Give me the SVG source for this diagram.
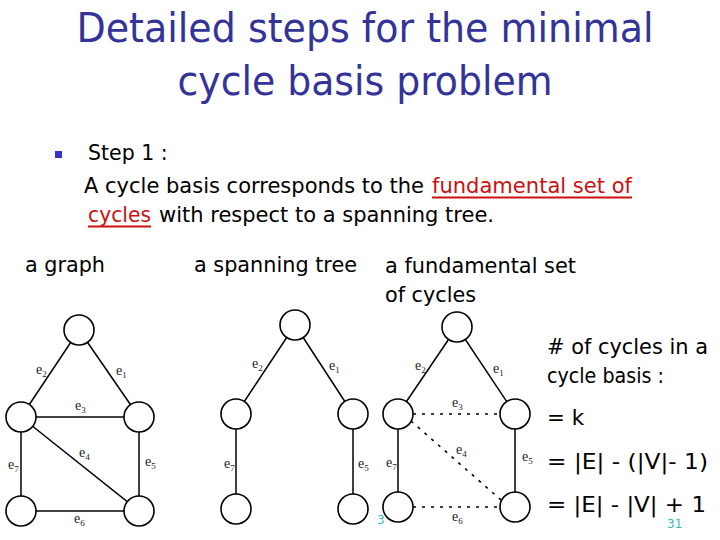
<svg xmlns="http://www.w3.org/2000/svg" width="720" height="540" viewBox="0 0 720 540">
<style>
.title{font-family:"DejaVu Sans","Verdana",sans-serif;font-size:41px;fill:#333399;text-anchor:middle}
.body{font-family:"DejaVu Sans","Verdana",sans-serif;font-size:20.5px;fill:#000}
.red{fill:#CC1111}
.lbl{font-family:"Liberation Serif","Times New Roman",serif;font-size:14px;fill:#222}
.sub{font-size:9px}
.nd{fill:#fff;stroke:#000;stroke-width:1.6}
.ed{stroke:#000;stroke-width:1.5;fill:none}
.dash{stroke:#000;stroke-width:1.6;stroke-dasharray:3 6;fill:none}
.teal{font-family:"DejaVu Sans",sans-serif;font-size:12px;fill:#33BBBB}
</style>
<rect width="720" height="540" fill="#fff"/>
<g id="title">
<text class="title" x="365" y="42" textLength="577" lengthAdjust="spacingAndGlyphs">Detailed steps for the minimal</text>
<text class="title" x="365" y="95" textLength="375" lengthAdjust="spacingAndGlyphs">cycle basis problem</text>
</g>
<g id="bullet-text">
<rect x="55" y="151" width="7" height="7" fill="#3333CC"/>
<text class="body" x="88" y="160">Step 1 :</text>
<text class="body" x="84" y="193" textLength="340" lengthAdjust="spacingAndGlyphs">A cycle basis corresponds to the</text>
<text class="body red" x="432" y="193" textLength="200" lengthAdjust="spacingAndGlyphs">fundamental set of</text>
<line x1="432" y1="197.5" x2="632" y2="197.5" stroke="#CC1111" stroke-width="2"/>
<text class="body red" x="88" y="222" textLength="63" lengthAdjust="spacingAndGlyphs">cycles</text>
<line x1="88" y1="226.5" x2="151" y2="226.5" stroke="#CC1111" stroke-width="2"/>
<text class="body" x="159" y="222" textLength="335" lengthAdjust="spacingAndGlyphs">with respect to a spanning tree.</text>
</g>
<g id="captions">
<text class="body" x="25" y="272" textLength="80" lengthAdjust="spacingAndGlyphs">a graph</text>
<text class="body" x="194" y="272" textLength="163" lengthAdjust="spacingAndGlyphs">a spanning tree</text>
<text class="body" x="385" y="273" textLength="191" lengthAdjust="spacingAndGlyphs">a fundamental set</text>
<text class="body" x="385" y="302" textLength="91" lengthAdjust="spacingAndGlyphs">of cycles</text>
<text class="body" x="547" y="354" textLength="161" lengthAdjust="spacingAndGlyphs"># of cycles in a</text>
<text class="body" x="547" y="383" textLength="117" lengthAdjust="spacingAndGlyphs">cycle basis :</text>
<text class="body" x="547" y="425" textLength="37" lengthAdjust="spacingAndGlyphs">= k</text>
<text class="body" x="547" y="469" textLength="161" lengthAdjust="spacingAndGlyphs">= |E| - (|V|- 1)</text>
<text class="body" x="547" y="512" textLength="159" lengthAdjust="spacingAndGlyphs">= |E| - |V| + 1</text>
<text class="teal" x="377" y="524">3</text>
<text class="teal" x="667" y="528">31</text>
</g>
<g id="connectors">
<line class="ed" x1="79" y1="330" x2="139" y2="417"/>
<line class="ed" x1="79" y1="330" x2="21" y2="417"/>
<line class="ed" x1="21" y1="417" x2="139" y2="417"/>
<line class="ed" x1="21" y1="417" x2="139" y2="511"/>
<line class="ed" x1="139" y1="417" x2="139" y2="511"/>
<line class="ed" x1="21" y1="511" x2="139" y2="511"/>
<line class="ed" x1="21" y1="417" x2="21" y2="511"/>
<line class="ed" x1="295" y1="325" x2="353" y2="414"/>
<line class="ed" x1="295" y1="325" x2="236" y2="414"/>
<line class="ed" x1="236" y1="414" x2="236" y2="509"/>
<line class="ed" x1="353" y1="414" x2="353" y2="509"/>
<line class="ed" x1="457" y1="327" x2="515" y2="414"/>
<line class="ed" x1="457" y1="327" x2="398" y2="414"/>
<line class="ed" x1="398" y1="414" x2="398" y2="507"/>
<line class="ed" x1="515" y1="414" x2="515" y2="507"/>
<line class="dash" x1="413" y1="414" x2="500" y2="414"/>
<line class="dash" x1="411" y1="421" x2="501" y2="500"/>
<line class="dash" x1="413" y1="507" x2="500" y2="507"/>
</g>
<g id="edge-labels">
<text class="lbl" x="36" y="374">e<tspan class="sub" dy="3">2</tspan></text>
<text class="lbl" x="116" y="375">e<tspan class="sub" dy="3">1</tspan></text>
<text class="lbl" x="75" y="410">e<tspan class="sub" dy="3">3</tspan></text>
<text class="lbl" x="79" y="457">e<tspan class="sub" dy="3">4</tspan></text>
<text class="lbl" x="145" y="466">e<tspan class="sub" dy="3">5</tspan></text>
<text class="lbl" x="8" y="469">e<tspan class="sub" dy="3">7</tspan></text>
<text class="lbl" x="74" y="523">e<tspan class="sub" dy="3">6</tspan></text>
<text class="lbl" x="252" y="368">e<tspan class="sub" dy="3">2</tspan></text>
<text class="lbl" x="329" y="370">e<tspan class="sub" dy="3">1</tspan></text>
<text class="lbl" x="224" y="468">e<tspan class="sub" dy="3">7</tspan></text>
<text class="lbl" x="358" y="468">e<tspan class="sub" dy="3">5</tspan></text>
<text class="lbl" x="415" y="370">e<tspan class="sub" dy="3">2</tspan></text>
<text class="lbl" x="493" y="373">e<tspan class="sub" dy="3">1</tspan></text>
<text class="lbl" x="452" y="407">e<tspan class="sub" dy="3">3</tspan></text>
<text class="lbl" x="456" y="454">e<tspan class="sub" dy="3">4</tspan></text>
<text class="lbl" x="522" y="461">e<tspan class="sub" dy="3">5</tspan></text>
<text class="lbl" x="386" y="467">e<tspan class="sub" dy="3">7</tspan></text>
<text class="lbl" x="452" y="521">e<tspan class="sub" dy="3">6</tspan></text>
</g>
<g id="g1-top"><circle class="nd" cx="79" cy="330" r="15"/></g>
<g id="g1-left"><circle class="nd" cx="21" cy="417" r="15"/></g>
<g id="g1-right"><circle class="nd" cx="139" cy="417" r="15"/></g>
<g id="g1-bl"><circle class="nd" cx="21" cy="511" r="15"/></g>
<g id="g1-br"><circle class="nd" cx="139" cy="511" r="15"/></g>
<g id="g2-top"><circle class="nd" cx="295" cy="325" r="15"/></g>
<g id="g2-left"><circle class="nd" cx="236" cy="414" r="15"/></g>
<g id="g2-right"><circle class="nd" cx="353" cy="414" r="15"/></g>
<g id="g2-bl"><circle class="nd" cx="236" cy="509" r="15"/></g>
<g id="g2-br"><circle class="nd" cx="353" cy="509" r="15"/></g>
<g id="g3-top"><circle class="nd" cx="457" cy="327" r="15"/></g>
<g id="g3-left"><circle class="nd" cx="398" cy="414" r="15"/></g>
<g id="g3-right"><circle class="nd" cx="515" cy="414" r="15"/></g>
<g id="g3-bl"><circle class="nd" cx="398" cy="507" r="15"/></g>
<g id="g3-br"><circle class="nd" cx="515" cy="507" r="15"/></g>
</svg>
